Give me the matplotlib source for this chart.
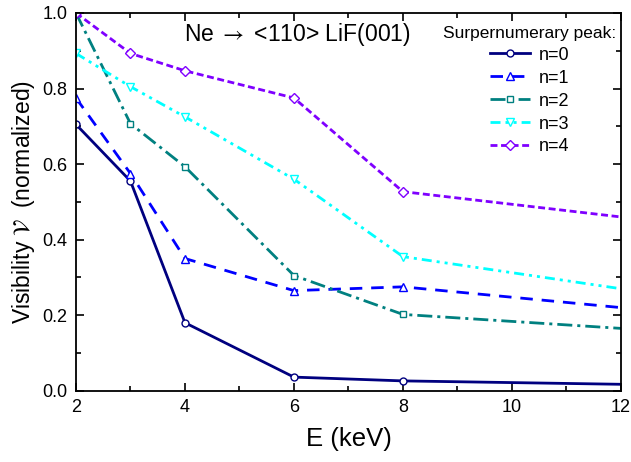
import matplotlib
matplotlib.use("Agg")
import matplotlib.pyplot as plt
from matplotlib.ticker import MultipleLocator, FormatStrFormatter

plt.rcParams['font.family'] = ['Liberation Sans', 'DejaVu Sans']
plt.rcParams['mathtext.fontset'] = 'stix'

# Projectile energy (keV); last point lies past the axis limit
energy = [2, 3, 4, 6, 8, 16]

# Normalized visibility for each supernumerary peak order
vis_n0 = [0.705, 0.555, 0.180, 0.036, 0.026, 0.008]
vis_n1 = [0.775, 0.575, 0.350, 0.265, 0.275, 0.165]
vis_n2 = [1.000, 0.707, 0.593, 0.305, 0.202, 0.128]
vis_n3 = [0.893, 0.805, 0.725, 0.560, 0.355, 0.185]
vis_n4 = [1.000, 0.893, 0.847, 0.775, 0.527, 0.393]

labels = ['n=0', 'n=1', 'n=2', 'n=3', 'n=4']
colors = ['#00007f', '#0000ff', '#008080', '#00ffff', '#7f00ff']
markers = ['o', '^', 's', 'v', 'D']
styles = ['-',
          (0, (4.5, 3.2)),
          (0, (5.4, 1.8, 1.1, 1.8)),
          (0, (3.6, 1.8, 1.1, 1.8, 1.1, 1.8)),
          (0, (2.5, 1.3))]
msizes = [5, 6, 4.8, 6, 5.2]

fig = plt.figure(figsize=(6.31, 4.62), dpi=100)
ax = fig.add_axes([0.1204, 0.1543, 0.8636, 0.8176])

for y, lab, c, m, ls, ms in zip([vis_n0, vis_n1, vis_n2, vis_n3, vis_n4],
                                labels, colors, markers, styles, msizes):
    ax.plot(energy, y, color=c, linestyle=ls, linewidth=2, marker=m,
            markersize=ms, markerfacecolor='white', markeredgecolor=c,
            markeredgewidth=1, label=lab)

ax.set_xlim(2, 12)
ax.set_ylim(0, 1.0)
ax.xaxis.set_major_locator(MultipleLocator(2))
ax.xaxis.set_minor_locator(MultipleLocator(1))
ax.yaxis.set_major_locator(MultipleLocator(0.2))
ax.yaxis.set_minor_locator(MultipleLocator(0.1))
ax.tick_params(which='both', direction='in', top=True, right=True,
               labelsize=13, width=1.2, pad=6)
ax.tick_params(which='major', length=6)
ax.tick_params(which='minor', length=3.5)
ax.yaxis.set_major_formatter(FormatStrFormatter('%.1f'))
for sp in ax.spines.values():
    sp.set_linewidth(1.3)

ax.set_xlabel('E (keV)', fontsize=18.5, labelpad=8)
ax.set_ylabel(r'Visibility $\mathcal{V}$  (normalized)', fontsize=16.5, labelpad=4)

ax.text(6.07, 0.942, r'Ne $\rightarrow$ <110> LiF(001)', fontsize=16.5,
        ha='center', va='center')

leg = ax.legend(loc='upper right', frameon=False, fontsize=13,
                title='Surpernumerary peak:', title_fontsize=12.5,
                handlelength=2.2, handletextpad=0.5, labelspacing=0.33,
                borderaxespad=0.2, bbox_to_anchor=(1.012, 0.995))

fig.savefig('out.png', dpi=100)
